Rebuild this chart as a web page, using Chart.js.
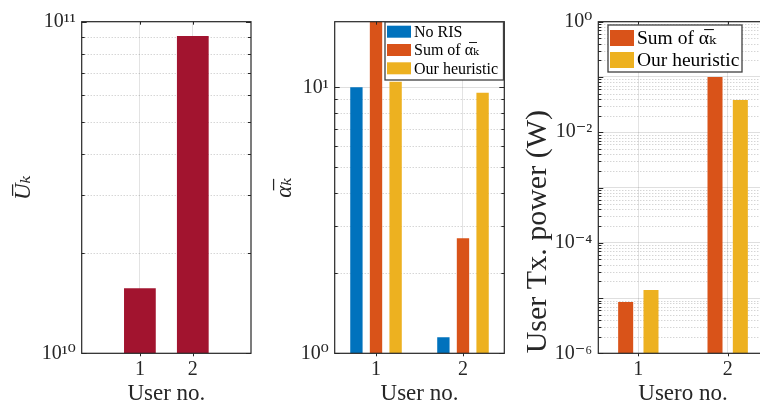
<!DOCTYPE html>
<html><head><meta charset="utf-8">
<script src="https://cdn.jsdelivr.net/npm/chart.js@4/dist/chart.umd.min.js"></script>
<style>
html,body{margin:0;padding:0;background:#fff;width:760px;height:409px;overflow:hidden;position:relative}
canvas{position:absolute;top:0}
</style></head><body>
<canvas id="c1" width="258" height="409" style="left:0px"></canvas>
<canvas id="c2" width="252" height="409" style="left:258px"></canvas>
<canvas id="c3" width="270" height="409" style="left:510px"></canvas>
<script>
// ---------- data ----------
const users = [1, 2];
const userTickLabels = ['1', '2'];
const uBar = [1.57e10, 9.06e10];
const alphaNoRIS = [10.0, 1.15];
const alphaSum = [17.7, 2.71];
const alphaHeuristic = [10.5, 9.55];
const powerSum = [8.5e-6, 0.0998];
const powerHeuristic = [1.40e-5, 0.0383];
const seriesLabels = ['No RIS', 'Sum of α̅ₖ', 'Our heuristic'];
const uTickValues = [1e10, 1e11];
const uTickLabels = ['10¹⁰', '10¹¹'];
const alphaTickValues = [1, 10];
const alphaTickLabels = ['10⁰', '10¹'];
const powerTickValues = [1e-6, 1e-4, 1e-2, 1];
const powerTickLabels = ['10⁻⁶', '10⁻⁴', '10⁻²', '10⁰'];

const FONT = "'Liberation Serif', 'DejaVu Serif', serif";
const TXT = '#262626';
const COLORS = {red: '#A2142F', blue: '#0072BD', orange: '#D95319', yellow: '#EDB120'};

function logTicks(min, max) {
  const out = [];
  for (let e = Math.floor(Math.log10(min)); e <= Math.ceil(Math.log10(max)); e++) {
    for (let m = 1; m < 10; m++) {
      const v = parseFloat((m * Math.pow(10, e)).toPrecision(6));
      if (v >= min * 0.9999 && v <= max * 1.0001) out.push({value: v});
    }
  }
  return out;
}
function isMajor(v) {
  const l = Math.log10(v);
  return Math.abs(l - Math.round(l)) < 1e-6;
}
function labelFor(values, labels) {
  return (v) => {
    for (let i = 0; i < values.length; i++) {
      if (Math.abs(v - values[i]) <= Math.abs(values[i]) * 1e-6) return labels[i];
    }
    return '';
  };
}

// dotted minor grid lines (drawn under the bars)
const minorGrid = {
  id: 'minorGrid',
  beforeDatasetsDraw(chart) {
    const {ctx, chartArea: a, scales} = chart;
    ctx.save();
    ctx.strokeStyle = 'rgba(38,38,38,0.28)';
    ctx.lineWidth = 1;
    ctx.setLineDash([1, 2]);
    scales.y.ticks.forEach(t => {
      if (isMajor(t.value)) return;
      const p = Math.round(scales.y.getPixelForValue(t.value)) + 0.5;
      ctx.beginPath();
      ctx.moveTo(a.left, p); ctx.lineTo(a.right, p);
      ctx.stroke();
    });
    ctx.restore();
  }
};

const frame = {
  id: 'frame',
  afterDatasetsDraw(chart) {
    const {ctx, chartArea: a, scales} = chart;
    ctx.save();
    ctx.strokeStyle = '#262626';
    ctx.lineWidth = 1;
    scales.y.ticks.forEach(t => {
      const p = Math.round(scales.y.getPixelForValue(t.value)) + 0.5;
      const len = isMajor(t.value) ? 5 : 3;
      ctx.beginPath();
      ctx.moveTo(a.left, p); ctx.lineTo(a.left + len, p);
      ctx.moveTo(a.right, p); ctx.lineTo(a.right - len, p);
      ctx.stroke();
    });
    scales.x.ticks.forEach(t => {
      const p = Math.round(scales.x.getPixelForValue(t.value)) + 0.5;
      ctx.beginPath();
      ctx.moveTo(p, a.bottom); ctx.lineTo(p, a.bottom + 3);
      ctx.moveTo(p, a.top); ctx.lineTo(p, a.top + 3);
      ctx.stroke();
    });
    ctx.lineWidth = 1.2;
    ctx.strokeRect(a.left, a.top, a.right - a.left, a.bottom - a.top);
    ctx.restore();
  }
};

const boxLegend = {
  id: 'boxLegend',
  afterDraw(chart, args, o) {
    if (!o || !o.show) return;
    const ctx = chart.ctx;
    ctx.save();
    ctx.fillStyle = '#fff';
    ctx.fillRect(o.x, o.y, o.w, o.h);
    ctx.strokeStyle = '#404040';
    ctx.lineWidth = 1.3;
    ctx.strokeRect(o.x, o.y, o.w, o.h);
    ctx.font = o.size + 'px ' + FONT;
    ctx.textBaseline = 'middle';
    chart.data.datasets.forEach((d, i) => {
      const cy = o.y + o.first + i * o.step;
      ctx.fillStyle = d.backgroundColor;
      ctx.fillRect(o.x + o.bx, cy - o.bh / 2, o.bw, o.bh);
      ctx.fillStyle = '#000';
      ctx.fillText(d.label, o.x + o.tx, cy + 1);
    });
    ctx.restore();
  }
};

function xScale(min, max, title) {
  return {
    type: 'linear', min, max, bounds: 'data', offset: false,
    afterBuildTicks: s => { s.ticks = users.map(v => ({value: v})); },
    afterFit: s => { s.height = 409 - 353.3; },
    ticks: {callback: labelFor(users, userTickLabels), font: {family: FONT, size: 20}, color: TXT, padding: 4, maxRotation: 0, autoSkip: false},
    grid: {offset: false, color: 'rgba(38,38,38,0.13)', lineWidth: 1, drawTicks: false},
    border: {display: false},
    title: {display: true, text: title, font: {family: FONT, size: 23}, color: TXT, padding: {top: 0, bottom: 1}}
  };
}
function yScale(min, max, values, labels, width, title, titleFont, titlePad, align) {
  return {
    type: 'logarithmic', min, max, bounds: 'data',
    afterBuildTicks: s => { s.ticks = logTicks(min, max); },
    afterFit: s => { s.width = width; },
    ticks: {callback: labelFor(values, labels), font: {family: FONT, size: 20}, color: TXT, padding: 6, autoSkip: false},
    grid: {
      color: ctx => isMajor(ctx.tick.value) ? 'rgba(38,38,38,0.15)' : 'rgba(0,0,0,0)',
      lineWidth: 1, drawTicks: false
    },
    border: {display: false},
    title: {display: true, text: title, font: titleFont, color: TXT, padding: {top: titlePad, bottom: 0}, align: align || 'center'}
  };
}
const common = {responsive: false, animation: false, devicePixelRatio: 1, events: []};
function pts(vals) { return users.map((u, i) => ({x: u, y: vals[i]})); }

// ---------- chart 1 ----------
new Chart(document.getElementById('c1'), {
  type: 'bar',
  data: {datasets: [{label: 'U̅ₖ', data: pts(uBar), backgroundColor: COLORS.red, categoryPercentage: 1, barPercentage: 0.6}]},
  options: Object.assign({}, common, {
    layout: {padding: {top: 21.7, right: 7, left: 0, bottom: 0}},
    plugins: {legend: {display: false}, tooltip: {enabled: false}},
    scales: {
      x: xScale(-0.1, 3.1, 'User no.'),
      y: yScale(1e10, 1e11, uTickValues, uTickLabels, 81.7, 'U̅ₖ', {family: FONT, size: 23, style: 'italic'}, 10)
    }
  }),
  plugins: [minorGrid, frame]
});

// ---------- chart 2 ----------
new Chart(document.getElementById('c2'), {
  type: 'bar',
  data: {datasets: [
    {label: seriesLabels[0], data: pts(alphaNoRIS), backgroundColor: COLORS.blue, categoryPercentage: 0.676, barPercentage: 0.63},
    {label: seriesLabels[1], data: pts(alphaSum), backgroundColor: COLORS.orange, categoryPercentage: 0.676, barPercentage: 0.63},
    {label: seriesLabels[2], data: pts(alphaHeuristic), backgroundColor: COLORS.yellow, categoryPercentage: 0.676, barPercentage: 0.63}
  ]},
  options: Object.assign({}, common, {
    layout: {padding: {top: 21.7, right: 252 - 246.3, left: 0, bottom: 0}},
    plugins: {legend: {display: false}, tooltip: {enabled: false},
      boxLegend: {show: true, x: 127, y: 22, w: 118.5, h: 58, first: 9.7, step: 18.3, bx: 2, bw: 24, bh: 12, tx: 29, size: 16}},
    scales: {
      x: xScale(0.525, 2.475, 'User no.'),
      y: yScale(1, 17.65, alphaTickValues, alphaTickLabels, 76.7, 'α̅ₖ', {family: FONT, size: 23, style: 'italic'}, 13)
    }
  }),
  plugins: [minorGrid, frame, boxLegend]
});

// ---------- chart 3 ----------
new Chart(document.getElementById('c3'), {
  type: 'bar',
  data: {datasets: [
    {label: seriesLabels[1], data: pts(powerSum), backgroundColor: COLORS.orange, categoryPercentage: 0.567, barPercentage: 0.593},
    {label: seriesLabels[2], data: pts(powerHeuristic), backgroundColor: COLORS.yellow, categoryPercentage: 0.567, barPercentage: 0.593}
  ]},
  options: Object.assign({}, common, {
    layout: {padding: {top: 21.7, right: 270 - 257.7, left: 0, bottom: 0}},
    plugins: {legend: {display: false}, tooltip: {enabled: false},
      boxLegend: {show: true, x: 98, y: 25, w: 134, h: 47, first: 13, step: 22, bx: 2, bw: 24, bh: 16, tx: 29, size: 19.5}},
    scales: {
      x: xScale(0.552, 2.448, 'Usero no.'),
      y: yScale(1e-6, 1, powerTickValues, powerTickLabels, 88.3, 'User Tx. power (W)', {family: FONT, size: 30}, 10, 'start')
    }
  }),
  plugins: [minorGrid, frame, boxLegend]
});
</script>
</body></html>
